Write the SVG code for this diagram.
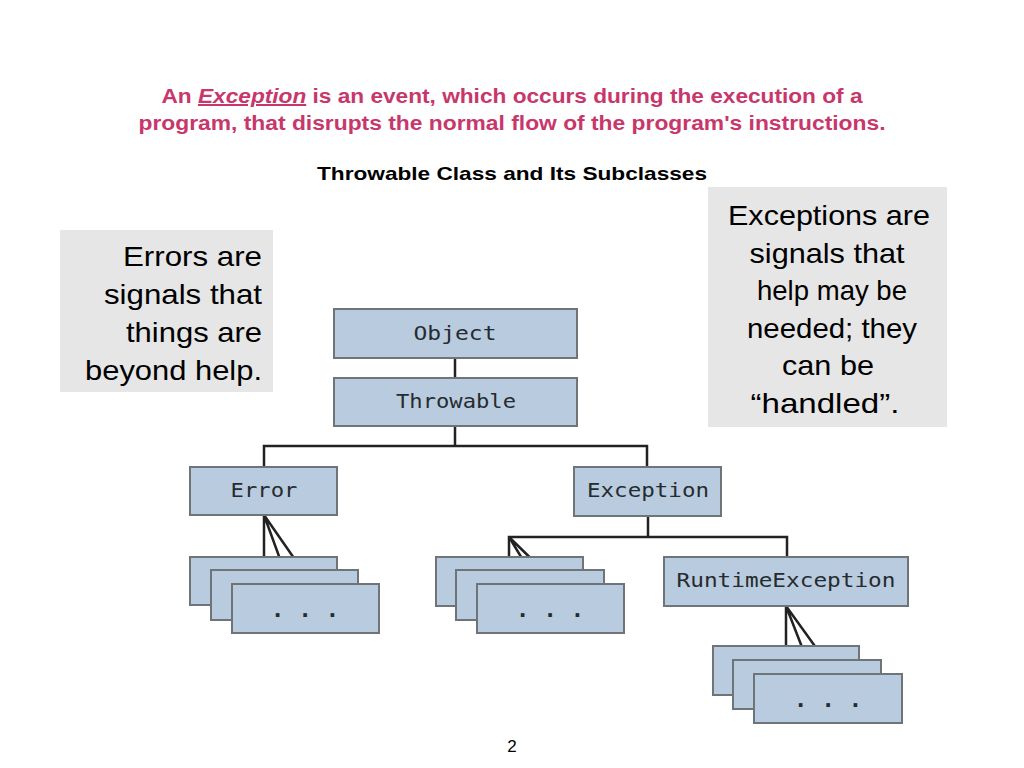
<svg xmlns="http://www.w3.org/2000/svg" width="1024" height="768" viewBox="0 0 1024 768">
<style>
.title{font-family:"Liberation Sans",Arial,sans-serif;font-weight:bold;font-size:20px;fill:#c8376b;text-anchor:middle}
.sub{font-family:"Liberation Sans",Arial,sans-serif;font-weight:bold;font-size:19px;fill:#000;text-anchor:middle}
.note{font-family:"Liberation Sans",Arial,sans-serif;font-size:28px;fill:#000}
.box{fill:#b9cbdf;stroke:#6f7478;stroke-width:2}
.lbl{font-family:"DejaVu Sans Mono","Liberation Mono",monospace;font-size:20px;fill:#262b2f;text-anchor:middle}
.dots{font-family:"DejaVu Sans Mono","Liberation Mono",monospace;font-size:22px;font-weight:bold;fill:#262b2f;text-anchor:middle}
.ln{stroke:#222;stroke-width:2.5;fill:none}
.gray{fill:#e6e6e6}
</style>
<rect width="1024" height="768" fill="#fff"/>
<g id="title">
<text class="title" x="512" y="103" textLength="701" lengthAdjust="spacingAndGlyphs">An <tspan font-style="italic" text-decoration="underline">Exception</tspan> is an event, which occurs during the execution of a</text>
<text class="title" x="512" y="130" textLength="747" lengthAdjust="spacingAndGlyphs">program, that disrupts the normal flow of the program's instructions.</text>
<text class="sub" x="512" y="180" textLength="390" lengthAdjust="spacingAndGlyphs">Throwable Class and Its Subclasses</text>
</g>
<g id="note-errors">
<rect class="gray" x="60" y="230" width="213" height="162"/>
<text class="note" text-anchor="end" x="262" y="266" textLength="139" lengthAdjust="spacingAndGlyphs">Errors are</text>
<text class="note" text-anchor="end" x="262" y="304" textLength="158" lengthAdjust="spacingAndGlyphs">signals that</text>
<text class="note" text-anchor="end" x="262" y="342" textLength="136" lengthAdjust="spacingAndGlyphs">things are</text>
<text class="note" text-anchor="end" x="262" y="380" textLength="177" lengthAdjust="spacingAndGlyphs">beyond help.</text>
</g>
<g id="note-exceptions">
<rect class="gray" x="708" y="187" width="239" height="240"/>
<text class="note" text-anchor="middle" x="829" y="225" textLength="202" lengthAdjust="spacingAndGlyphs">Exceptions are</text>
<text class="note" text-anchor="middle" x="827" y="263" textLength="155" lengthAdjust="spacingAndGlyphs">signals that</text>
<text class="note" text-anchor="middle" x="832" y="300" textLength="150" lengthAdjust="spacingAndGlyphs">help may be</text>
<text class="note" text-anchor="middle" x="832" y="338" textLength="170" lengthAdjust="spacingAndGlyphs">needed; they</text>
<text class="note" text-anchor="middle" x="828" y="375" textLength="92" lengthAdjust="spacingAndGlyphs">can be</text>
<text class="note" text-anchor="middle" x="825" y="413" textLength="149" lengthAdjust="spacingAndGlyphs">“handled”.</text>
</g>
<g id="connectors">
<path class="ln" d="M455 358V378"/>
<path class="ln" d="M455 426V446M264 467V446H647V467"/>
<path class="ln" d="M264 515V557M264 515L284 570M264 515L312 584"/>
<path class="ln" d="M648 516V537M509 557V537H787V557"/>
<path class="ln" d="M509 537L529 570M509 537L557 584"/>
<path class="ln" d="M786 606V646M786 606L807 660M786 606L835 674"/>
</g>
<g id="object"><rect class="box" x="334" y="309" width="243" height="49"/><text class="lbl" x="455" y="340" textLength="83" lengthAdjust="spacingAndGlyphs">Object</text></g>
<g id="throwable"><rect class="box" x="334" y="378" width="243" height="48"/><text class="lbl" x="456" y="408" textLength="120" lengthAdjust="spacingAndGlyphs">Throwable</text></g>
<g id="error"><rect class="box" x="190" y="467" width="147" height="48"/><text class="lbl" x="264" y="497" textLength="67" lengthAdjust="spacingAndGlyphs">Error</text></g>
<g id="exception"><rect class="box" x="574" y="467" width="147" height="49"/><text class="lbl" x="648" y="497" textLength="122" lengthAdjust="spacingAndGlyphs">Exception</text></g>
<g id="runtime"><rect class="box" x="664" y="557" width="244" height="49"/><text class="lbl" x="786" y="587" textLength="219" lengthAdjust="spacingAndGlyphs">RuntimeException</text></g>
<g id="error-subclasses">
<rect class="box" x="190" y="557" width="147" height="48"/>
<rect class="box" x="211" y="570" width="147" height="50"/>
<rect class="box" x="232" y="584" width="147" height="49"/>
<text class="dots" x="305" y="617" textLength="68" lengthAdjust="spacing">. . .</text>
</g>
<g id="exception-subclasses">
<rect class="box" x="436" y="557" width="147" height="49"/>
<rect class="box" x="456" y="570" width="148" height="50"/>
<rect class="box" x="477" y="584" width="147" height="49"/>
<text class="dots" x="550" y="617" textLength="68" lengthAdjust="spacing">. . .</text>
</g>
<g id="runtime-subclasses">
<rect class="box" x="713" y="646" width="146" height="49"/>
<rect class="box" x="733" y="660" width="148" height="49"/>
<rect class="box" x="754" y="674" width="148" height="49"/>
<text class="dots" x="828" y="707" textLength="68" lengthAdjust="spacing">. . .</text>
</g>
<g id="page"><text x="512" y="752" font-family="Liberation Sans,Arial,sans-serif" font-size="17" text-anchor="middle">2</text></g>
</svg>
